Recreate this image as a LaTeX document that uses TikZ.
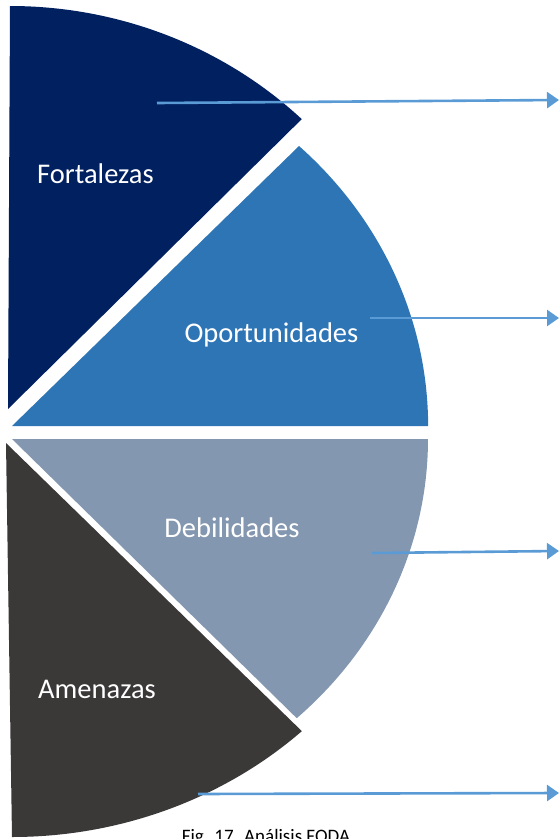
\documentclass[tikz,border=0pt]{standalone}
\usepackage{fontspec}
\setmainfont{Carlito}
\usetikzlibrary{arrows.meta}
\definecolor{cF}{HTML}{002060}
\definecolor{cO}{HTML}{2E75B6}
\definecolor{cD}{HTML}{8497B0}
\definecolor{cA}{HTML}{3B3838}
\definecolor{cArr}{HTML}{5B9BD5}
\tikzset{
  lbl/.style={text=white, font=\fontsize{28.5}{34}\selectfont, inner sep=0pt},
  captxt/.style={text=black, font=\fontsize{19}{23}\selectfont, inner sep=0pt},
  conn/.style={draw=cArr, line width=2.6pt, -{Triangle[length=12pt,width=16pt]}}
}
\begin{document}
\begin{tikzpicture}[x=1pt,y=1pt]
\useasboundingbox (0,0) rectangle (559,-839);
\clip (0,0) rectangle (559,-839);
% sectors
\fill[cF] (8,-409) -- (10,-6) arc[start angle=90, end angle=46, x radius=420, y radius=403] -- cycle;
\fill[cO] (12,-426) -- ++(287,280) arc[start angle=46.4, end angle=0, x radius=416, y radius=387] -- cycle;
\fill[cD] (12,-439) -- (428,-439) arc[start angle=0, end angle=-46.8, x radius=416, y radius=383] -- cycle;
\fill[cA] (6,-443) -- (12,-837) arc[start angle=-90, end angle=-47, x radius=425, y radius=394] -- cycle;
% labels
\node[lbl, anchor=base west] (fort) at (37,-183) {Fortalezas};
\node[lbl, anchor=base] (opor) at (271.5,-342) {Oportunidades};
\node[lbl, anchor=base] (debi) at (232,-537) {Debilidades};
\node[lbl, anchor=base west] (amen) at (38,-698) {Amenazas};
% arrows
\coordinate (s1) at (157,-103); \coordinate (e1) at (559,-100);
\coordinate (s2) at (370,-318); \coordinate (e2) at (559,-318);
\coordinate (s3) at (372,-553); \coordinate (e3) at (559,-551);
\coordinate (s4) at (198,-794); \coordinate (e4) at (559,-793);
\draw[conn] (s1) -- (e1);
\draw[conn] (s2) -- (e2);
\draw[conn] (s3) -- (e3);
\draw[conn] (s4) -- (e4);
% caption
\node[captxt, anchor=base] (caption) at (266,-842) {Fig. 17. Análisis FODA};
\end{tikzpicture}
\end{document}
